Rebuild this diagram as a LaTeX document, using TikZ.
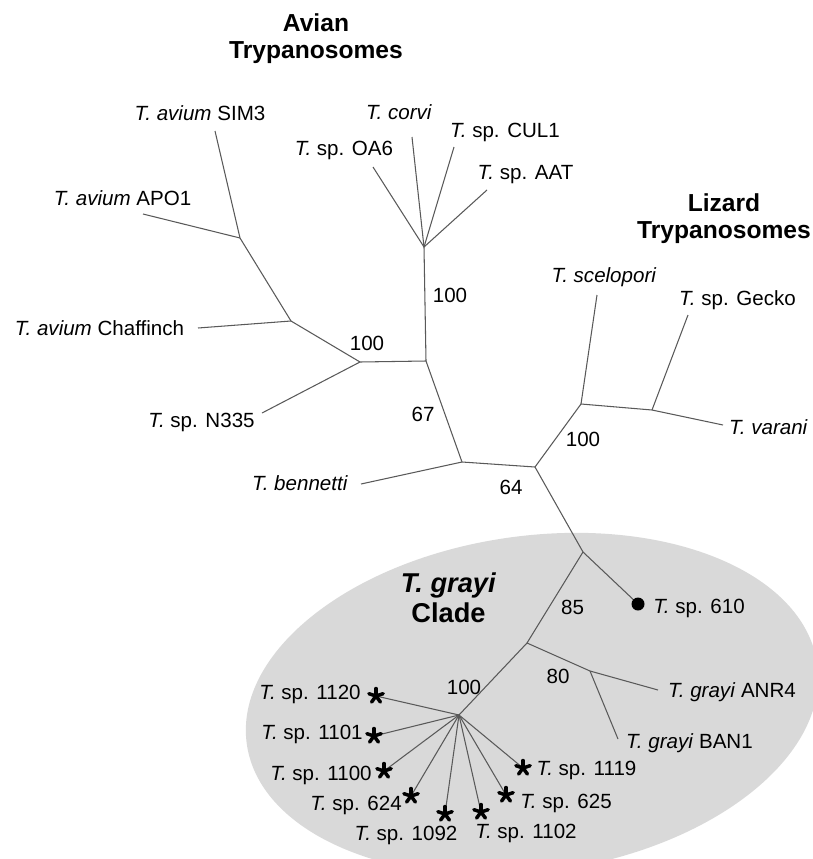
\documentclass[tikz,border=0pt]{standalone}
\usepackage{fontspec}
\setmainfont{Liberation Sans}
\begin{document}
\begin{tikzpicture}[
    x=0.02cm, y=-0.02cm,
    branch/.style={draw=black!65, line width=0.6pt},
    leaf/.style={inner sep=0pt, font=\fontsize{11.7}{13}\selectfont},
    boot/.style={inner sep=0pt, font=\fontsize{11.7}{13}\selectfont},
    title/.style={inner sep=0pt, align=center, font=\fontsize{14}{15.3}\selectfont\bfseries},
    cladename/.style={inner sep=0pt, align=center, font=\fontsize{15.5}{17}\selectfont\bfseries},
    asterisk/.pic={\foreach \ang in {270,342,198,126,54} \draw[line width=2pt, line cap=round] (0,0) -- (\ang:7.5);}
  ]
    \useasboundingbox (0,0) rectangle (813,859);

    % T. grayi clade background
    \fill[black!15, rotate around={8:(532,704)}] (532,704) ellipse (288 and 168);

    % Titles
    \node[title] (avian) at (316,38.5) {Avian\\Trypanosomes};
    \node[title] (lizard) at (724,219) {Lizard\\Trypanosomes};
    \node[cladename] (clade) at (448.5,598) {\textit{T. grayi}\\Clade};

    % Inner nodes
    \coordinate (av1) at (240,238);
    \coordinate (av2) at (291,321);
    \coordinate (av3) at (360,362);
    \coordinate (av4) at (426,361);
    \coordinate (av5) at (424,247);
    \coordinate (rt1) at (462,462);
    \coordinate (rt2) at (535,467);
    \coordinate (lz1) at (581,404);
    \coordinate (lz2) at (652,410);
    \coordinate (gr0) at (583,552);
    \coordinate (gr1) at (527,643);
    \coordinate (gr2) at (590,671);
    \coordinate (gr3) at (459,715);

    % Leaf ends
    \coordinate (e-sim3) at (215,131);
    \coordinate (e-apo1) at (143,214);
    \coordinate (e-chaff) at (198,328);
    \coordinate (e-n335) at (262,413);
    \coordinate (e-oa6) at (373,167);
    \coordinate (e-corvi) at (412,137);
    \coordinate (e-cul1) at (454,147);
    \coordinate (e-aat) at (487,190);
    \coordinate (e-benn) at (361,484);
    \coordinate (e-scel) at (597,295);
    \coordinate (e-gecko) at (688,315);
    \coordinate (e-varani) at (723,425);
    \coordinate (e-610) at (638,604);
    \coordinate (e-anr4) at (658,690);
    \coordinate (e-ban1) at (618,739);
    \coordinate (e-1120) at (376,696);
    \coordinate (e-1101) at (374,736);
    \coordinate (e-1100) at (384,771);
    \coordinate (e-624) at (411,796);
    \coordinate (e-1092) at (445,814);
    \coordinate (e-1102) at (481,812);
    \coordinate (e-625) at (506,795);
    \coordinate (e-1119) at (523,768);

    % Branches
    \draw[branch] (e-sim3) -- (av1) -- (av2) -- (av3) -- (av4) -- (av5);
    \draw[branch] (e-apo1) -- (av1);
    \draw[branch] (e-chaff) -- (av2);
    \draw[branch] (e-n335) -- (av3);
    \foreach \leaf in {oa6,corvi,cul1,aat}
      \draw[branch] (av5) -- (e-\leaf);
    \draw[branch] (av4) -- (rt1) -- (rt2) -- (lz1) -- (lz2) -- (e-varani);
    \draw[branch] (rt1) -- (e-benn);
    \draw[branch] (lz1) -- (e-scel);
    \draw[branch] (lz2) -- (e-gecko);
    \draw[branch] (rt2) -- (gr0) -- (e-610);
    \draw[branch] (gr0) -- (gr1) -- (gr2) -- (e-anr4);
    \draw[branch] (gr2) -- (e-ban1);
    \draw[branch] (gr1) -- (gr3);
    \foreach \leaf in {1120,1101,1100,624,1092,1102,625,1119}
      \draw[branch] (gr3) -- (e-\leaf);

    % Markers
    \fill (e-610) circle (6.5);
    \foreach \leaf in {1120,1101,1100,624,1092,1102,625,1119}
      \pic at (e-\leaf) {asterisk};

    % Leaf labels
    \node[leaf] (l-sim3) at (200,113) {\textit{T. avium} SIM3};
    \node[leaf] (l-apo1) at (122.5,198) {\textit{T. avium} APO1};
    \node[leaf] (l-chaff) at (99.5,328) {\textit{T. avium} Chaffinch};
    \node[leaf] (l-n335) at (201.5,422) {\textit{T.} sp. N335};
    \node[leaf] (l-benn) at (300,483) {\textit{T. bennetti}};
    \node[leaf] (l-oa6) at (344,150) {\textit{T.} sp. OA6};
    \node[leaf] (l-corvi) at (399,112) {\textit{T. corvi}};
    \node[leaf] (l-cul1) at (505,132) {\textit{T.} sp. CUL1};
    \node[leaf] (l-aat) at (525.5,175) {\textit{T.} sp. AAT};
    \node[leaf] (l-scel) at (604,277) {\textit{T. scelopori}};
    \node[leaf] (l-gecko) at (737.5,300) {\textit{T.} sp. Gecko};
    \node[leaf] (l-varani) at (768.5,427) {\textit{T. varani}};
    \node[leaf] (l-610) at (699,608) {\textit{T.} sp. 610};
    \node[leaf] (l-anr4) at (732,692) {\textit{T. grayi} ANR4};
    \node[leaf] (l-ban1) at (689.5,743) {\textit{T. grayi} BAN1};
    \node[leaf] (l-1120) at (310,694) {\textit{T.} sp. 1120};
    \node[leaf] (l-1101) at (312,734) {\textit{T.} sp. 1101};
    \node[leaf] (l-1100) at (321,775) {\textit{T.} sp. 1100};
    \node[leaf] (l-624) at (356,805) {\textit{T.} sp. 624};
    \node[leaf] (l-1092) at (406,835) {\textit{T.} sp. 1092};
    \node[leaf] (l-1102) at (526,833) {\textit{T.} sp. 1102};
    \node[leaf] (l-625) at (566,803) {\textit{T.} sp. 625};
    \node[leaf] (l-1119) at (586.5,770) {\textit{T.} sp. 1119};

    % Bootstrap values
    \node[boot] (b-av3) at (367,343) {100};
    \node[boot] (b-av5) at (450,295) {100};
    \node[boot] (b-rt1) at (423,414) {67};
    \node[boot] (b-rt2) at (511,487) {64};
    \node[boot] (b-lz1) at (583,439) {100};
    \node[boot] (b-gr0) at (572.5,607) {85};
    \node[boot] (b-gr2) at (558,676) {80};
    \node[boot] (b-gr3) at (464,687) {100};

\end{tikzpicture}
\end{document}
